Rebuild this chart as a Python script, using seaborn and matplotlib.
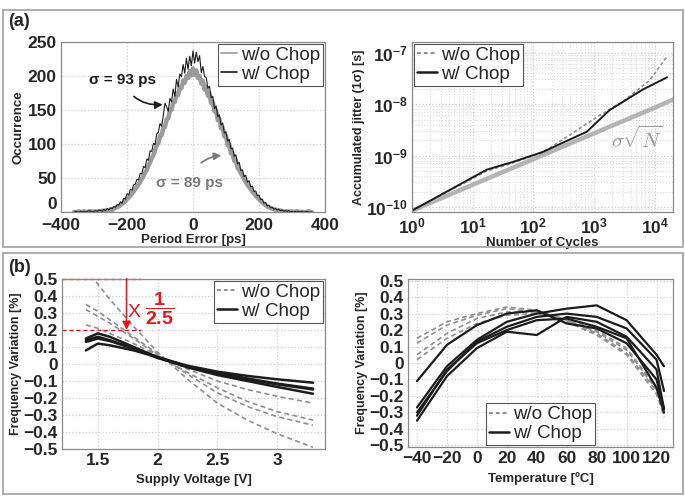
import numpy as np
import pandas as pd
import matplotlib
matplotlib.use("Agg")
import matplotlib.pyplot as plt
import seaborn as sns
from matplotlib.lines import Line2D
from matplotlib.patches import Rectangle
from matplotlib.ticker import FuncFormatter, LogLocator

# ---- (a) left: period error histogram, bins every 5 ps from -360 ps ----
bin_start = -360
bin_step = 5
counts_no_chop = [
    0, 0, 0, 1, 0, 0, 1, 0, 0, 1,
    0, 1, 0, 1, 0, 1, 1, 2, 1, 2,
    3, 2, 4, 3, 5, 6, 7, 8, 10, 12,
    14, 16, 19, 21, 24, 27, 30, 34, 37, 41,
    44, 49, 53, 58, 62, 68, 73, 79, 84, 91,
    98, 101, 112, 113, 124, 125, 136, 138, 149, 150,
    161, 162, 174, 172, 184, 182, 193, 190, 200, 197,
    207, 201, 211, 202, 208, 197, 200, 189, 193, 180,
    184, 171, 174, 160, 162, 148, 150, 135, 137, 123,
    124, 111, 112, 98, 99, 86, 87, 75, 76, 65,
    62, 57, 53, 48, 44, 40, 37, 33, 30, 27,
    24, 21, 19, 16, 14, 12, 10, 8, 7, 6,
    5, 4, 3.5, 3, 2.5, 2, 1.5, 1, 1, 1,
    0.5, 1, 0, 0.5, 0, 1, 0, 0, 0.5, 0,
    0, 0, 1, 0, 0,
]
counts_chop = [
    0, 1, 0, 0, 1, 0, 1, 0, 1, 2,
    1, 0, 1, 2, 1, 3, 2, 1, 4, 2,
    5, 3, 6, 5, 8, 7, 11, 10, 15, 13,
    20, 19, 27, 25, 33, 32, 40, 41, 48, 47,
    57, 56, 67, 65, 78, 76, 90, 89, 101, 99,
    115, 117, 130, 126, 142, 160, 155, 148, 167, 162,
    181, 170, 195, 184, 203, 199, 217, 204, 226, 210,
    229, 215, 237, 219, 235, 221, 230, 205, 214, 199,
    198, 182, 185, 168, 170, 152, 156, 140, 143, 128,
    131, 116, 118, 104, 107, 93, 94, 82, 84, 71,
    73, 61, 62, 52, 54, 44, 46, 37, 38, 30,
    31, 24, 25, 18, 19, 13, 14, 9, 10, 6,
    7, 4, 5, 3, 4, 2, 3, 1, 2, 1,
    2, 0, 1, 0, 1, 0, 1, 0, 1, 0,
    0, 1, 0, 0, 0,
]

# ---- (a) right: accumulated jitter ----
n_sqrt = [1, 10, 100, 1000, 10000, 21000]
jit_sqrt = [8.5e-11, 2.7e-10, 8.5e-10, 2.7e-9, 8.5e-9, 1.25e-8]
n_chop = [1, 17, 46, 145, 760, 1800, 6300, 16000]
jit_chop = [8.5e-11, 5.3e-10, 7.5e-10, 1.18e-9, 2.9e-9, 7.6e-9, 1.9e-8, 3.3e-8]
n_no_chop = [1, 17, 46, 145, 355, 1120, 2950, 8300, 16000]
jit_no_chop = [8.5e-11, 5.0e-10, 7.2e-10, 1.15e-9, 2.3e-9, 5.6e-9, 1.1e-8, 2.9e-8, 8.5e-8]

# ---- (b) left: supply voltage sweep ----
volts = [1.4, 1.5, 1.6, 1.8, 2.0, 2.25, 2.5, 2.75, 3.0, 3.3]
v_no_chop = [
    [0.56, 0.47, 0.38, 0.22, 0.07, -0.09, -0.23, -0.33, -0.41, -0.49],
    [0.35, 0.31, 0.26, 0.16, 0.06, -0.06, -0.17, -0.25, -0.31, -0.36],
    [0.32, 0.28, 0.24, 0.15, 0.05, -0.05, -0.14, -0.22, -0.28, -0.33],
    [0.23, 0.21, 0.18, 0.12, 0.05, -0.03, -0.10, -0.15, -0.19, -0.23],
]
v_chop = [
    [0.15, 0.18, 0.16, 0.10, 0.04, -0.02, -0.065, -0.10, -0.135, -0.175],
    [0.14, 0.16, 0.14, 0.09, 0.04, -0.015, -0.055, -0.09, -0.12, -0.15],
    [0.13, 0.15, 0.135, 0.09, 0.035, -0.015, -0.05, -0.085, -0.115, -0.145],
    [0.08, 0.12, 0.11, 0.08, 0.04, -0.01, -0.045, -0.07, -0.09, -0.11],
]

# ---- (b) right: temperature sweep ----
temps = [-40, -20, 0, 20, 40, 60, 80, 100, 120, 125]
t_no_chop = [
    [0.15, 0.25, 0.30, 0.34, 0.32, 0.26, 0.18, 0.06, -0.17, -0.30],
    [0.12, 0.23, 0.29, 0.33, 0.31, 0.25, 0.17, 0.05, -0.19, -0.32],
    [0.05, 0.18, 0.27, 0.31, 0.31, 0.26, 0.19, 0.08, -0.16, -0.31],
    [0.02, 0.15, 0.24, 0.29, 0.30, 0.27, 0.20, 0.09, -0.15, -0.33],
]
t_chop = [
    [-0.11, 0.11, 0.23, 0.30, 0.32, 0.24, 0.21, 0.12, -0.10, -0.28],
    [-0.27, -0.02, 0.14, 0.25, 0.30, 0.33, 0.35, 0.26, 0.05, -0.02],
    [-0.30, -0.05, 0.13, 0.22, 0.28, 0.30, 0.28, 0.21, 0.02, -0.17],
    [-0.35, -0.08, 0.09, 0.19, 0.17, 0.28, 0.25, 0.16, -0.04, -0.28],
    [-0.32, -0.04, 0.12, 0.20, 0.26, 0.27, 0.22, 0.15, -0.15, -0.30],
]

GRAY = "#8f8f8f"
BLACK = "#1c1c1c"
RED = "#e8141c"


def frac_fmt(v, pos):
    if abs(v) < 1e-9:
        return "0"
    return f"{v:.1f}".replace("-", "\u2212")


def style_axes(ax):
    for s in ax.spines.values():
        s.set_color("#8a8a8a")
        s.set_linewidth(0.9)
    ax.tick_params(direction="in", length=3, color="#8a8a8a", labelsize=12.5,
                   pad=3)
    for lab in ax.get_xticklabels() + ax.get_yticklabels():
        lab.set_fontweight("bold")
    ax.grid(True, which="major", color="#cfcfcf", linestyle=":", linewidth=0.9)


def add_legend(ax, gray_dashed, **kw):
    h = [
        Line2D([], [], color=GRAY, lw=1.4 if gray_dashed else 1.2,
               ls=(0, (2, 1.5)) if gray_dashed else "-"),
        Line2D([], [], color=BLACK, lw=1.8),
    ]
    leg = ax.legend(h, ["w/o Chop", "w/ Chop"], fontsize=13.5, frameon=True,
                    fancybox=False, framealpha=1, edgecolor="#555555",
                    handlelength=1.1, handletextpad=0.2, labelspacing=0.1,
                    borderpad=0.15, borderaxespad=0.1, **kw)
    leg.get_frame().set_linewidth(0.8)
    return leg


def main():
    sns.set_theme(style="white")
    plt.rcParams["font.family"] = ["Liberation Sans", "DejaVu Sans"]
    plt.rcParams["mathtext.fontset"] = "custom"
    plt.rcParams["mathtext.rm"] = "Liberation Sans:bold"
    plt.rcParams["mathtext.bf"] = "Liberation Sans:bold"
    plt.rcParams["mathtext.it"] = "Liberation Sans:bold:italic"

    fig = plt.figure(figsize=(6.85, 4.96), dpi=100)
    fig.patch.set_facecolor("white")

    # panel frames
    fig.add_artist(Rectangle((3 / 685, 1 - 247 / 496), 680 / 685, 237 / 496,
                             transform=fig.transFigure, fill=False,
                             edgecolor="#a8a8a8", lw=1.3))
    fig.add_artist(Rectangle((3 / 685, 1 - 494 / 496), 680 / 685, 241 / 496,
                             transform=fig.transFigure, fill=False,
                             edgecolor="#a8a8a8", lw=1.3))
    fig.text(8 / 685, 1 - 22 / 496, "(a)", fontsize=13, fontweight="bold",
             va="center")
    fig.text(8 / 685, 1 - 267 / 496, "(b)", fontsize=13, fontweight="bold",
             va="center")

    ax1 = fig.add_axes([61 / 685, 1 - 212 / 496, 264 / 685, 170 / 496])
    ax2 = fig.add_axes([412 / 685, 1 - 212 / 496, 261 / 685, 170 / 496])
    ax3 = fig.add_axes([62 / 685, 1 - 449 / 496, 263 / 685, 170 / 496])
    ax4 = fig.add_axes([408 / 685, 1 - 447 / 496, 265 / 685, 168 / 496])

    # ---- histogram ----
    pe = bin_start + bin_step * np.arange(len(counts_chop))
    hist = pd.DataFrame({"pe": pe, "no_chop": counts_no_chop[:len(pe)],
                         "chop": counts_chop})
    sns.lineplot(data=hist, x="pe", y="no_chop", ax=ax1, color="#9a9a9a",
                 lw=3.2, legend=False)
    sns.lineplot(data=hist, x="pe", y="chop", ax=ax1, color=BLACK, lw=0.8,
                 legend=False)
    ax1.set_xlim(-400, 400)
    ax1.set_ylim(0, 250)
    ax1.set_xticks([-400, -200, 0, 200, 400])
    ax1.set_yticks([0, 50, 100, 150, 200, 250])
    ax1.set_xlabel("Period Error [ps]", fontsize=9.5, fontweight="bold",
                   labelpad=1)
    ax1.set_ylabel("Occurrence", fontsize=9.5, fontweight="bold", labelpad=2)
    style_axes(ax1)
    ax1.tick_params(axis="x", pad=4)
    # the "0" sits just above the corner, clear of the "-400" below it
    ax1.yaxis.get_major_ticks()[0].label1.set_verticalalignment("bottom")
    h1 = [Line2D([], [], color="#9a9a9a", lw=1.2),
          Line2D([], [], color=BLACK, lw=1.2)]
    leg = ax1.legend(h1, ["w/o Chop", "w/ Chop"], loc="upper right",
                     fontsize=13.5, fancybox=False, framealpha=1,
                     edgecolor="#555555", handlelength=0.9, handletextpad=0.2,
                     labelspacing=0.1, borderpad=0.15, borderaxespad=0.1)
    leg.get_frame().set_linewidth(0.8)
    ax1.annotate("σ = 93 ps", xy=(-92, 158), xytext=(-215, 194),
                 fontsize=11, fontweight="bold", ha="center", va="center",
                 color=BLACK,
                 arrowprops=dict(arrowstyle="-|>", color=BLACK, lw=1.2,
                                 shrinkA=6, shrinkB=0,
                                 connectionstyle="arc3,rad=0.35"))
    ax1.annotate("σ = 89 ps", xy=(86, 83), xytext=(-12, 43),
                 fontsize=11, fontweight="bold", ha="center", va="center",
                 color="#7a7a7a",
                 arrowprops=dict(arrowstyle="-|>", color="#7a7a7a", lw=1.2,
                                 shrinkA=9, shrinkB=0,
                                 connectionstyle="arc3,rad=-0.35"))

    # ---- accumulated jitter ----
    sns.lineplot(x=n_sqrt, y=jit_sqrt, ax=ax2, color="#b4b4b4", lw=3.2,
                 legend=False)
    sns.lineplot(x=n_no_chop, y=jit_no_chop, ax=ax2, color=GRAY, lw=1.2,
                 ls=(0, (2, 1.5)), legend=False)
    sns.lineplot(x=n_chop, y=jit_chop, ax=ax2, color=BLACK, lw=1.4,
                 legend=False)
    ax2.set_xscale("log")
    ax2.set_yscale("log")
    ax2.set_xlim(1, 2e4)
    ax2.set_ylim(8e-11, 1.6e-7)
    ax2.set_xticks([1, 10, 100, 1000, 10000])
    ax2.set_yticks([1e-10, 1e-9, 1e-8, 1e-7])
    ax2.yaxis.set_minor_locator(LogLocator(base=10, subs=np.arange(2, 10)))
    ax2.xaxis.set_minor_locator(LogLocator(base=10, subs=np.arange(2, 10)))
    ax2.set_xlabel("Number of Cycles", fontsize=9.5, fontweight="bold",
                   labelpad=1)
    ax2.set_ylabel("Accumulated jitter (1σ) [s]", fontsize=9,
                   fontweight="bold", labelpad=1)
    style_axes(ax2)
    ax2.tick_params(which="minor", length=0)
    ax2.grid(True, which="minor", color="#dddddd", linestyle=":",
             linewidth=0.8)
    add_legend(ax2, True, loc="upper left")
    ax2.text(5000, 2.1e-9, r"$\sigma\sqrt{N}$", fontsize=15, color="#9a9a9a",
             ha="center", va="center", math_fontfamily="cm")

    # ---- supply voltage ----
    for curve in v_no_chop:
        sns.lineplot(x=volts, y=curve, ax=ax3, color=GRAY, lw=1.2,
                     ls=(0, (3, 2)), legend=False)
    for curve in v_chop:
        sns.lineplot(x=volts, y=curve, ax=ax3, color=BLACK, lw=1.8,
                     legend=False)
    ax3.set_xlim(1.2, 3.4)
    ax3.set_ylim(-0.5, 0.5)
    ax3.set_xticks([1.5, 2, 2.5, 3])
    ax3.set_yticks(np.round(np.arange(-0.5, 0.51, 0.1), 1))
    ax3.xaxis.set_major_formatter(FuncFormatter(lambda v, p: f"{v:g}"))
    ax3.yaxis.set_major_formatter(FuncFormatter(frac_fmt))
    ax3.set_xlabel("Supply Voltage [V]", fontsize=9.5, fontweight="bold",
                   labelpad=4)
    ax3.set_ylabel("Frequency Variation [%]", fontsize=9, fontweight="bold",
                   labelpad=1)
    style_axes(ax3)
    add_legend(ax3, True, loc="upper right")
    ax3.plot([1.2, 1.86], [0.5, 0.5], color=RED, lw=1.0, ls=(0, (3, 2)),
             clip_on=False)
    ax3.plot([1.2, 1.86], [0.2, 0.2], color=RED, lw=1.0, ls=(0, (3, 2)))
    ax3.annotate("", xy=(1.74, 0.2), xytext=(1.74, 0.5),
                 arrowprops=dict(arrowstyle="-|>", color=RED, lw=1.2,
                                 shrinkA=0, shrinkB=0))
    ax3.text(1.80, 0.305, "X", color=RED, fontsize=14, ha="center",
             va="center")
    ax3.text(2.02, 0.325, r"$\dfrac{1}{2.5}$", color=RED, fontsize=14,
             ha="center", va="center")

    # ---- temperature ----
    for curve in t_no_chop:
        sns.lineplot(x=temps, y=curve, ax=ax4, color=GRAY, lw=1.2,
                     ls=(0, (3, 2)), legend=False)
    for curve in t_chop:
        sns.lineplot(x=temps, y=curve, ax=ax4, color=BLACK, lw=1.6,
                     legend=False)
    ax4.set_xlim(-46, 131)
    ax4.set_ylim(-0.51, 0.51)
    ax4.set_xticks([-40, -20, 0, 20, 40, 60, 80, 100, 120])
    ax4.set_yticks(np.round(np.arange(-0.5, 0.51, 0.1), 1))
    ax4.yaxis.set_major_formatter(FuncFormatter(frac_fmt))
    ax4.set_xlabel("Temperature [ºC]", fontsize=9.5, fontweight="bold",
                   labelpad=4)
    ax4.set_ylabel("Frequency Variation [%]", fontsize=9, fontweight="bold",
                   labelpad=1)
    style_axes(ax4)
    add_legend(ax4, True, loc="lower center", bbox_to_anchor=(0.5, 0.0))

    fig.savefig("out.png", dpi=100, facecolor="white")


if __name__ == "__main__":
    main()
